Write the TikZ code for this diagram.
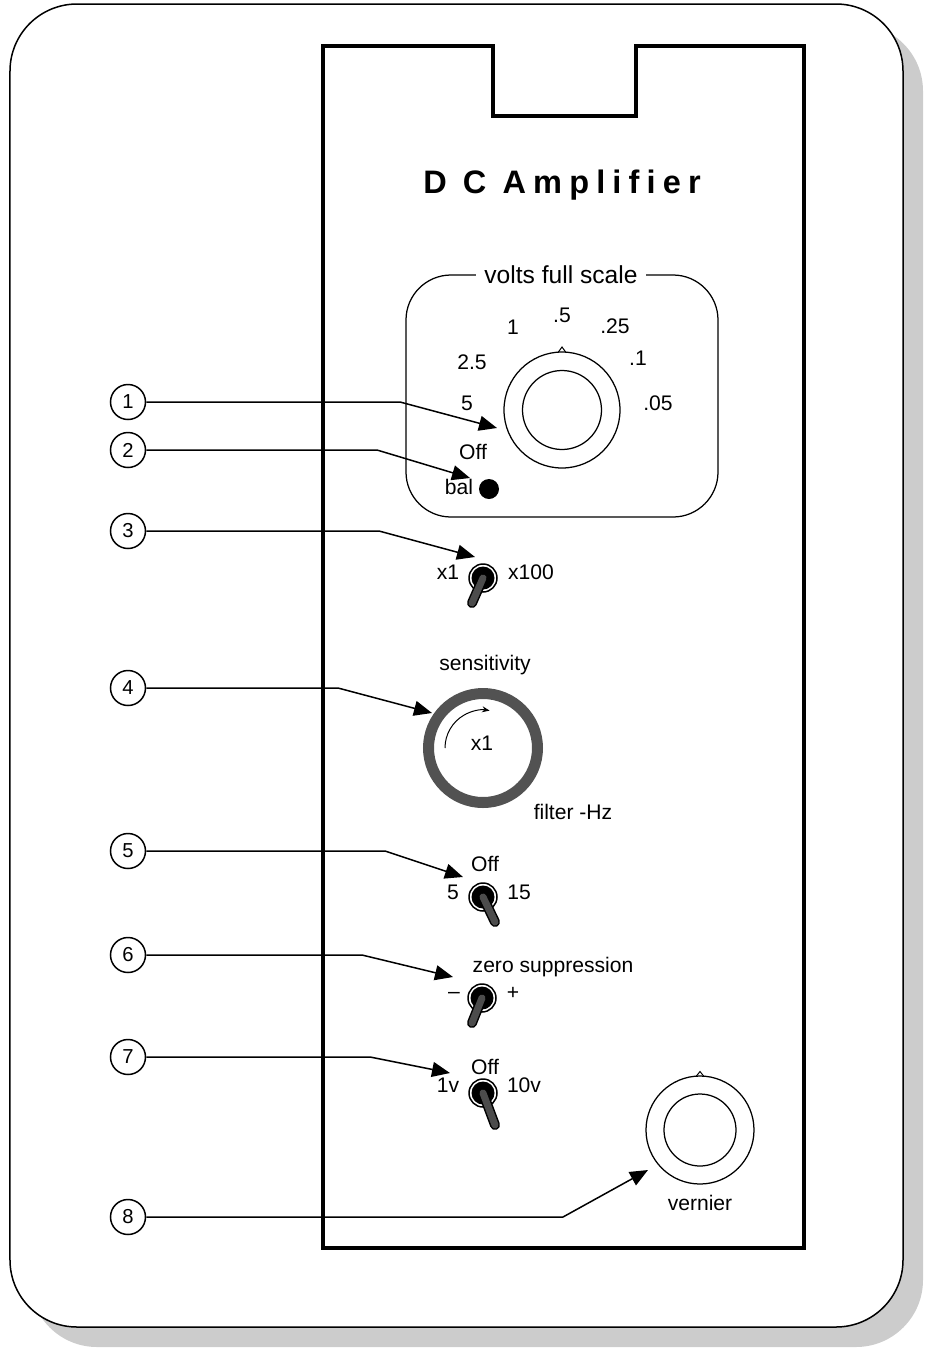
\documentclass[tikz,border=0pt]{standalone}
\usepackage{fontspec}
\setmainfont{Liberation Sans}
\newfontfamily\titlefont[LetterSpace=22]{Liberation Sans}
\usepackage{xcolor}
\usepackage{tikz}
\usetikzlibrary{positioning}
\usetikzlibrary{arrows.meta}

\begin{document}
\begin{tikzpicture}[
	lbl/.style={font=\fontsize{12}{14}\selectfont,inner sep=0pt},
	num/.style={circle,draw,line width=0.03cm,minimum size=0.7cm,inner sep=0pt,fill=white,font=\fontsize{11.5}{13}\selectfont},
	callout/.style={line width=0.03cm,-{Triangle[length=0.36cm,width=0.3cm]}},
	toggle/.style={circle,draw,line width=0.03cm,minimum size=0.56cm,inner sep=0pt},
	lever/.style={line cap=round,line width=0.03cm,double=black!70,double distance=0.14cm},
	knob/.style={circle,draw,line width=0.025cm,inner sep=0pt}]
	
	\useasboundingbox (0,0) rectangle (18.5,-26.98);
	
	% card with its shadow
	\fill[black!20,rounded corners=1.34cm] (0.6,-0.48) rectangle (18.46,-26.94);
	\draw[fill=white,line width=0.03cm,rounded corners=1.34cm] (0.2,-0.08) rectangle (18.06,-26.54);
	
	% front panel with the notch on top
	\draw[line width=0.08cm] (6.46,-0.92) -- (9.86,-0.92) -- (9.86,-2.32) -- (12.72,-2.32) -- (12.72,-0.92)
		-- (16.08,-0.92) -- (16.08,-24.96) -- (6.46,-24.96) -- cycle;
	\node[font=\titlefont\bfseries\fontsize{18.5}{20}\selectfont] (title) at (11.24,-3.7) {D C Amplifier};
	
	% range switch
	\draw[line width=0.025cm,rounded corners=0.9cm] (8.12,-5.5) rectangle (14.36,-10.34);
	\node[fill=white,inner xsep=5pt,inner ysep=1pt,font=\fontsize{14}{16}\selectfont] (vfs) at (11.22,-5.5) {volts full scale};
	\node[knob,minimum size=2.32cm] (range) at (11.24,-8.2) {};
	\node[knob,minimum size=1.58cm] (rangein) at (11.24,-8.2) {};
	\draw[line width=0.02cm] (11.16,-7.05) -- (11.24,-6.94) -- (11.32,-7.05);
	\node[lbl] (r05) at (11.24,-6.3) {.5};
	\node[lbl] (r1) at (10.26,-6.54) {1};
	\node[lbl] (r025) at (12.3,-6.52) {.25};
	\node[lbl] (r25) at (9.44,-7.24) {2.5};
	\node[lbl] (r01) at (12.76,-7.16) {.1};
	\node[lbl] (r5) at (9.34,-8.06) {5};
	\node[lbl] (r005) at (13.16,-8.06) {.05};
	\node[lbl] (roff) at (9.46,-9.04) {Off};
	\node[lbl] (bal) at (9.18,-9.74) {bal};
	\fill (9.78,-9.78) circle (0.2cm);
	
	% x1 / x100 switch
	\node[toggle] (tg3) at (9.66,-11.56) {};
	\fill (tg3) circle (0.23cm);
	\draw[lever] (tg3.center) -- (9.44,-12.06);
	\node[lbl] (x1) at (8.96,-11.44) {x1};
	\node[lbl] (x100) at (10.62,-11.44) {x100};
	
	% sensitivity
	\node[lbl] (sens) at (9.7,-13.3) {sensitivity};
	\draw[line width=0.22cm,black!68] (9.66,-14.96) circle (1.09cm);
	\draw[line width=0.02cm,-{Stealth[length=0.15cm,width=0.12cm]}] (8.9,-14.96) arc[start angle=180,end angle=80,radius=0.76cm];
	\node[lbl] (sx1) at (9.64,-14.86) {x1};
	\node[lbl] (filt) at (11.46,-16.24) {filter -Hz};
	
	% filter switch
	\node[toggle] (tg5) at (9.66,-17.94) {};
	\fill (tg5) circle (0.23cm);
	\draw[lever] (tg5.center) -- (9.9,-18.44);
	\node[lbl] (foff) at (9.7,-17.28) {Off};
	\node[lbl] (f5) at (9.06,-17.84) {5};
	\node[lbl] (f15) at (10.38,-17.84) {15};
	
	% zero suppression switch
	\node[lbl] (zero) at (11.06,-19.34) {zero suppression};
	\node[toggle] (tg6) at (9.64,-19.96) {};
	\fill (tg6) circle (0.23cm);
	\draw[lever] (tg6.center) -- (9.44,-20.46);
	\node[lbl] (zm) at (9.08,-19.9) {\textendash};
	\node[lbl] (zp) at (10.26,-19.86) {+};
	
	% 1v / 10v switch
	\node[toggle] (tg7) at (9.66,-21.86) {};
	\fill (tg7) circle (0.23cm);
	\draw[lever] (tg7.center) -- (9.9,-22.5);
	\node[lbl] (voff) at (9.7,-21.34) {Off};
	\node[lbl] (v1) at (8.96,-21.7) {1v};
	\node[lbl] (v10) at (10.48,-21.7) {10v};
	
	% vernier
	\node[knob,minimum size=2.16cm] (vern) at (14,-22.6) {};
	\node[knob,minimum size=1.44cm] (vernin) at (14,-22.6) {};
	\draw[line width=0.02cm] (13.92,-21.53) -- (14,-21.43) -- (14.08,-21.53);
	\node[lbl] (vlbl) at (14,-24.06) {vernier};
	
	% callouts
	\node[num] (c1) at (2.56,-8.04) {1};
	\node[num] (c2) at (2.56,-9.0) {2};
	\node[num] (c3) at (2.56,-10.62) {3};
	\node[num] (c4) at (2.56,-13.76) {4};
	\node[num] (c5) at (2.56,-17.02) {5};
	\node[num] (c6) at (2.56,-19.1) {6};
	\node[num] (c7) at (2.56,-21.14) {7};
	\node[num] (c8) at (2.56,-24.34) {8};
	
	\coordinate (b1) at (8.0,-8.04);   \coordinate (t1) at (9.94,-8.56);
	\coordinate (b2) at (7.54,-9.0);   \coordinate (t2) at (9.4,-9.56);
	\coordinate (b3) at (7.58,-10.62); \coordinate (t3) at (9.5,-11.14);
	\coordinate (b4) at (6.76,-13.76); \coordinate (t4) at (8.64,-14.26);
	\coordinate (b5) at (7.7,-17.02);  \coordinate (t5) at (9.26,-17.54);
	\coordinate (b6) at (7.24,-19.1);  \coordinate (t6) at (9.06,-19.54);
	\coordinate (b7) at (7.4,-21.14);  \coordinate (t7) at (9.0,-21.46);
	\coordinate (b8) at (11.26,-24.34); \coordinate (t8) at (12.96,-23.4);
	
	\draw[callout] (c1) -- (b1) -- (t1);
	\draw[callout] (c2) -- (b2) -- (t2);
	\draw[callout] (c3) -- (b3) -- (t3);
	\draw[callout] (c4) -- (b4) -- (t4);
	\draw[callout] (c5) -- (b5) -- (t5);
	\draw[callout] (c6) -- (b6) -- (t6);
	\draw[callout] (c7) -- (b7) -- (t7);
	\draw[callout] (c8) -- (b8) -- (t8);
	
\end{tikzpicture}
\end{document}
